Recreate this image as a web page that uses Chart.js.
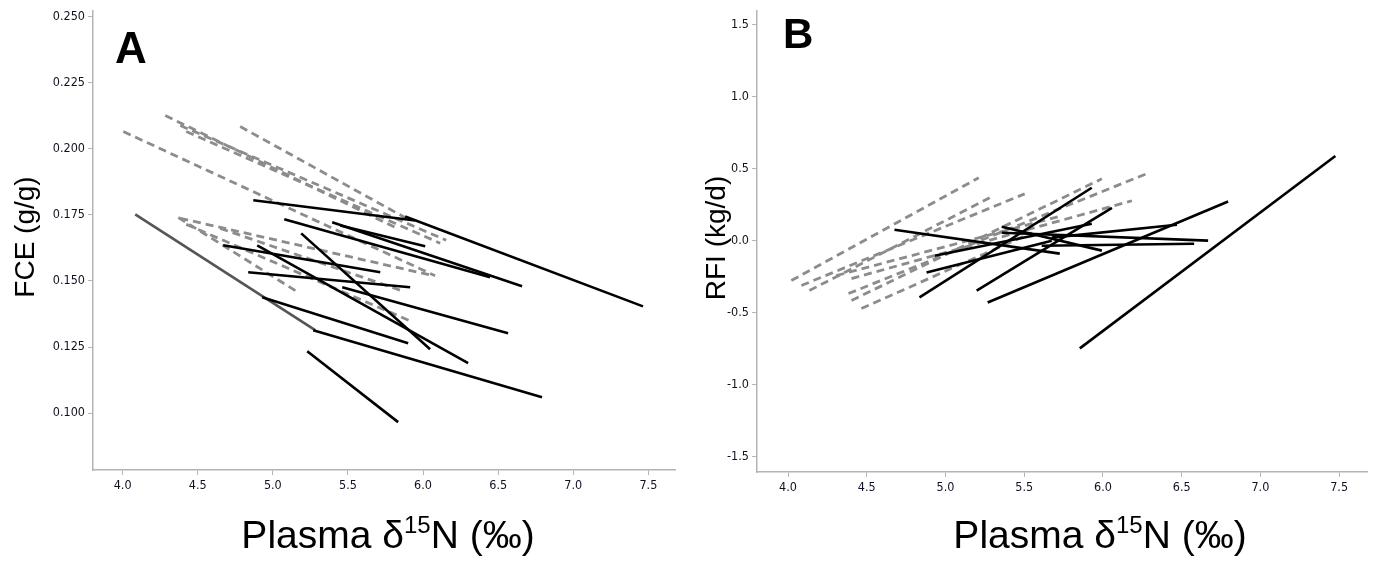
<!DOCTYPE html>
<html>
<head>
<meta charset="utf-8">
<script src="https://cdn.jsdelivr.net/npm/chart.js@4.4.1/dist/chart.umd.min.js"></script>
<style>
    body { margin: 0; background: #fff; }
    .panel { position: absolute; top: 0; height: 563px; }
    #panelA { left: 0; width: 687px; }
    #panelB { left: 687px; width: 688px; }
</style>
</head>
<body>
<div class="panel" id="panelA"><canvas id="chartA"></canvas></div>
<div class="panel" id="panelB"><canvas id="chartB"></canvas></div>
<script>
// tick labels
const xTicks = [4.0, 4.5, 5.0, 5.5, 6.0, 6.5, 7.0, 7.5];
const fceTicks = [0.100, 0.125, 0.150, 0.175, 0.200, 0.225, 0.250];
const rfiTicks = [-1.5, -1.0, -0.5, 0.0, 0.5, 1.0, 1.5];

// each line = [x start, y start, x end, y end]
// Panel A - FCE (g/g)
const fceBlack = [
    [4.870, 0.1805, 5.947, 0.1729],
    [5.881, 0.1744, 7.464, 0.1404],
    [5.076, 0.1733, 6.446, 0.1514],
    [5.395, 0.1722, 6.659, 0.1480],
    [5.449, 0.1710, 6.014, 0.1631],
    [5.189, 0.1680, 6.047, 0.1242],
    [4.670, 0.1635, 5.715, 0.1533],
    [4.836, 0.1533, 5.914, 0.1476],
    [4.896, 0.1635, 6.300, 0.1189],
    [5.462, 0.1476, 6.566, 0.1302],
    [4.929, 0.1438, 5.901, 0.1264],
    [5.269, 0.1314, 6.792, 0.1060],
    [5.229, 0.1234, 5.834, 0.0966]
];
const fceDarkGrey = [
    [4.084, 0.1752, 5.282, 0.1314]
];
const fceGreyDashed = [
    [4.005, 0.2065, 6.080, 0.1520],
    [4.284, 0.2126, 5.827, 0.1699],
    [4.384, 0.2088, 6.154, 0.1654],
    [4.424, 0.2065, 6.114, 0.1643],
    [4.783, 0.2084, 5.914, 0.1729],
    [4.371, 0.1740, 5.169, 0.1457],
    [4.424, 0.1714, 5.934, 0.1344],
    [4.384, 0.1737, 6.061, 0.1521],
    [4.650, 0.1699, 5.848, 0.1465]
];

// Panel B - RFI (kg/d)
const rfiBlack = [
    [5.853, -0.747, 7.476, 0.588],
    [5.268, -0.429, 6.795, 0.272],
    [5.198, -0.346, 6.057, 0.228],
    [4.835, -0.394, 5.929, 0.367],
    [4.676, 0.076, 5.726, -0.090],
    [4.931, -0.104, 5.929, 0.118],
    [4.880, -0.221, 5.675, 0.000],
    [5.357, 0.097, 5.993, -0.069],
    [5.357, 0.055, 6.668, 0.000],
    [5.611, -0.035, 6.579, -0.021],
    [5.675, 0.021, 6.470, 0.111]
];
const rfiGreyDashed = [
    [4.021, -0.277, 5.211, 0.436],
    [4.085, -0.311, 5.503, 0.325],
    [4.136, -0.346, 5.281, 0.298],
    [4.384, -0.367, 6.292, 0.471],
    [4.403, -0.415, 5.993, 0.429],
    [4.403, -0.263, 6.184, 0.277],
    [4.466, -0.471, 5.548, 0.055],
    [4.307, -0.242, 5.738, 0.173]
];

const tickFont = '"DejaVu Sans Condensed", "Liberation Sans Narrow", sans-serif';
const titleFont = '"Liberation Sans", Arial, sans-serif';

function lineSets(segs, color, width, dash) {
    return segs.map(s => ({
        data: [{ x: s[0], y: s[1] }, { x: s[2], y: s[3] }],
        showLine: true,
        borderColor: color,
        borderWidth: width,
        borderDash: dash,
        pointRadius: 0,
        pointHoverRadius: 0,
        fill: false,
        tension: 0
    }));
}

function axis(min, max, ticks, digits, fitKey, fitSize) {
    return {
        type: 'linear',
        min: min,
        max: max,
        afterBuildTicks: scale => { scale.ticks = ticks.map(v => ({ value: v })); },
        afterFit: scale => { scale[fitKey] = fitSize; },
        border: { display: true, color: '#b4b4b4', width: 1.5 },
        grid: { display: true, drawOnChartArea: false, drawTicks: true, tickLength: 5, color: '#b4b4b4', lineWidth: 1 },
        ticks: {
            color: '#111122',
            font: { family: tickFont, size: 12.5 },
            autoSkip: false,
            maxRotation: 0,
            padding: 3,
            callback: v => Number(v).toFixed(digits)
        }
    };
}

// panel letter + axis titles
const panelText = {
    id: 'panelText',
    afterDraw(chart, args, o) {
        const ctx = chart.ctx;
        ctx.save();
        ctx.fillStyle = '#000';
        ctx.textBaseline = 'alphabetic';

        ctx.font = 'bold ' + o.letterSize + 'px ' + titleFont;
        ctx.textAlign = 'left';
        ctx.fillText(o.letter, o.letterX, o.letterY);

        // x title: Plasma δ15N (‰) with superscript
        const big = '39px ' + titleFont;
        const small = '24px ' + titleFont;
        const parts = [['Plasma δ', big, 0], ['15', small, -15], ['N (‰)', big, 0]];
        let total = 0;
        parts.forEach(p => { ctx.font = p[1]; total += ctx.measureText(p[0]).width; });
        let x = o.xTitleCenter - total / 2;
        parts.forEach(p => {
            ctx.font = p[1];
            ctx.fillText(p[0], x, o.xTitleBase + p[2]);
            x += ctx.measureText(p[0]).width;
        });

        // y title
        ctx.translate(o.yTitleBase, o.yTitleCenter);
        ctx.rotate(-Math.PI / 2);
        ctx.textAlign = 'center';
        ctx.font = '28px ' + titleFont;
        ctx.fillText(o.yTitle, 0, 0);
        ctx.restore();
    }
};

function makeChart(id, datasets, yScale, padRight, padTop, text) {
    return new Chart(document.getElementById(id), {
        type: 'scatter',
        data: { datasets: datasets },
        plugins: [panelText],
        options: {
            responsive: true,
            maintainAspectRatio: false,
            animation: false,
            layout: { padding: { left: 0, right: padRight, top: padTop, bottom: 0 } },
            plugins: {
                legend: { display: false },
                tooltip: { enabled: false },
                panelText: text
            },
            scales: {
                x: axis(3.803, 7.677, xTicks, 1, 'height', text.xAxisHeight),
                y: yScale
            }
        }
    });
}

makeChart('chartA',
    [
        ...lineSets(fceBlack, '#000000', 2.6, []),
        ...lineSets(fceDarkGrey, '#555555', 2.6, []),
        ...lineSets(fceGreyDashed, '#8c8c8c', 2.8, [8, 5])
    ],
    axis(0.0785, 0.2523, fceTicks, 3, 'width', 93),
    12, 10,
    {
        letter: 'A', letterX: 115, letterY: 63, letterSize: 44,
        xTitleCenter: 388, xTitleBase: 548, xAxisHeight: 93,
        yTitle: 'FCE (g/g)', yTitleBase: 34, yTitleCenter: 237
    }
);

makeChart('chartB',
    [
        ...lineSets(rfiBlack, '#000000', 2.6, []),
        ...lineSets(rfiGreyDashed, '#8c8c8c', 2.8, [8, 5])
    ],
    axis(-1.605, 1.597, rfiTicks, 1, 'width', 70),
    8, 9,
    {
        letter: 'B', letterX: 96, letterY: 48, letterSize: 42,
        xTitleCenter: 413, xTitleBase: 548, xAxisHeight: 91,
        yTitle: 'RFI (kg/d)', yTitleBase: 38, yTitleCenter: 238
    }
);
</script>
</body>
</html>
